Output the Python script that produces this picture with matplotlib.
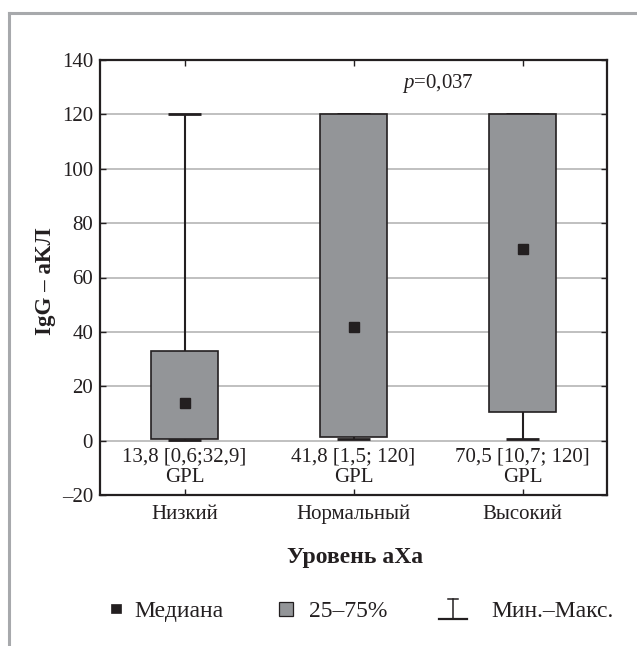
import matplotlib
matplotlib.use("Agg")
import matplotlib.pyplot as plt
from matplotlib.lines import Line2D
from matplotlib.patches import Rectangle
from matplotlib.legend_handler import HandlerBase

plt.rcParams['font.family'] = ['Liberation Serif', 'DejaVu Serif']
plt.rcParams['mathtext.fontset'] = 'custom'
plt.rcParams['mathtext.it'] = 'Liberation Serif:italic'
plt.rcParams['mathtext.rm'] = 'Liberation Serif'

# ---- data ----
categories = ['Низкий', 'Нормальный', 'Высокий']
medians = [13.8, 41.8, 70.5]
q1 = [0.6, 1.5, 10.7]
q3 = [32.9, 120, 120]
mins = [0.4, 0.5, 0.5]
maxs = [120, 120, 120]
summary_labels = ['13,8 [0,6;32,9]', '41,8 [1,5; 120]', '70,5 [10,7; 120]']
unit_label = 'GPL'
p_text = '$p$=0,037'
yticks = [-20, 0, 20, 40, 60, 80, 100, 120, 140]

W, H = 637, 646
BOX = '#939598'
DARK = '#231f20'
GRID = '#b5b5b5'
FS = 15
FS_LEG = 17
PT = 0.72  # points per pixel at dpi 100

fig = plt.figure(figsize=(W / 100, H / 100), dpi=100)
fig.patch.set_facecolor('white')

# grey frame (top + left)
fig.add_artist(Line2D([9 / W, 1], [1 - 13 / H, 1 - 13 / H], transform=fig.transFigure,
                      color='#a7a9ac', lw=2.2))
fig.add_artist(Line2D([9 / W, 9 / W], [0, 1 - 13 / H], transform=fig.transFigure,
                      color='#a7a9ac', lw=2.2))

ax = fig.add_axes([100 / W, 1 - 495 / H, 507 / W, 435 / H])
pos = list(range(len(categories)))

ax.set_axisbelow(True)
for y in yticks[1:-1]:
    ax.axhline(y, color=GRID, lw=1.2, zorder=0)

# whiskers
for x, lo, b, t, hi in zip(pos, mins, q1, q3, maxs):
    ax.vlines(x, lo, b, color=DARK, lw=1.5, zorder=2)
    ax.vlines(x, t, hi, color=DARK, lw=1.5, zorder=2)
    ax.hlines([lo, hi], x - 0.098, x + 0.098, color=DARK, lw=2.0, zorder=2)

# boxes
ax.bar(pos, [t - b for b, t in zip(q1, q3)], bottom=q1, width=0.4,
       color=BOX, edgecolor=DARK, linewidth=1.2, zorder=3)
# medians
ax.plot(pos, medians, 's', color=DARK, markersize=6.5, zorder=4, linestyle='none')

for x, s in zip(pos, summary_labels):
    ax.text(x, -6.0, s, ha='center', va='center', fontsize=FS, color=DARK)
    ax.text(x, -13.7, unit_label, ha='center', va='center', fontsize=FS, color=DARK)

ax.text(1.5, 131.5, p_text, ha='center', va='center', fontsize=FS, color=DARK)

ax.set_xlim(-0.5, 2.5)
ax.set_ylim(-20, 140)
ax.set_xticks(pos)
ax.set_xticklabels(categories)
ax.set_yticks(yticks)
ax.set_yticklabels([('\u2013' + str(-v)) if v < 0 else str(v) for v in yticks])
ax.tick_params(direction='in', length=4, width=1, color=DARK, labelsize=FS,
               labelcolor=DARK, top=True, right=True)
ax.tick_params(axis='x', pad=7)
ax.tick_params(axis='y', pad=5)
for sp in ax.spines.values():
    sp.set_linewidth(1.6)
    sp.set_color(DARK)

fig.text(45 / W, 1 - 281 / H, 'IgG – aKЛ', rotation=90, ha='center', va='center',
         fontsize=16.5, fontweight='bold', color=DARK)
fig.text(355 / W, 1 - 557 / H, 'Уровень аХа', ha='center', va='center',
         fontsize=17, fontweight='bold', color=DARK)


# ---- legend ----
class MedianHandler(HandlerBase):
    def create_artists(self, legend, orig, xd, yd, width, height, fontsize, trans):
        s = 9.5 * PT
        cx = 34 * PT
        r = Rectangle((cx - s / 2 - xd, height / 2 - s / 2 - yd), s, s,
                      facecolor=DARK, edgecolor=DARK, lw=0.5, transform=trans)
        return [r]


class BoxHandler(HandlerBase):
    def create_artists(self, legend, orig, xd, yd, width, height, fontsize, trans):
        s = 14 * PT
        x0 = 22 * PT
        r = Rectangle((x0 - xd, height / 2 - s / 2 - yd), s, s,
                      facecolor=BOX, edgecolor=DARK, lw=0.9, transform=trans)
        return [r]


class RangeHandler(HandlerBase):
    def create_artists(self, legend, orig, xd, yd, width, height, fontsize, trans):
        w = 28 * PT
        hh = 10 * PT
        cx = w / 2 - xd
        y0 = height / 2 - hh - yd
        y1 = height / 2 + hh - yd
        a = Line2D([cx, cx], [y0, y1], color=DARK, lw=1.1, transform=trans)
        b = Line2D([-xd, w - xd], [y0, y0], color=DARK, lw=1.6, transform=trans)
        c = Line2D([cx - 5 * PT, cx + 5 * PT], [y1, y1], color=DARK, lw=1.1,
                   transform=trans)
        return [a, b, c]


class LegendKey:
    pass


legend_labels = ['Медиана', '25–75%', 'Мин.–Макс.']
legend_x = [82, 257, 439]
handlers = [MedianHandler(), BoxHandler(), RangeHandler()]
for lab, x0, hd in zip(legend_labels, legend_x, handlers):
    key = LegendKey()
    lg = fig.legend([key], [lab], handler_map={LegendKey: hd}, loc='center left',
                    bbox_to_anchor=(x0 / W, 1 - 611 / H), frameon=False,
                    borderpad=0, borderaxespad=0, handlelength=38 / (FS_LEG / PT),
                    handletextpad=14 / (FS_LEG / PT), fontsize=FS_LEG)
    for t in lg.get_texts():
        t.set_color(DARK)

fig.savefig('out.png', dpi=100)
